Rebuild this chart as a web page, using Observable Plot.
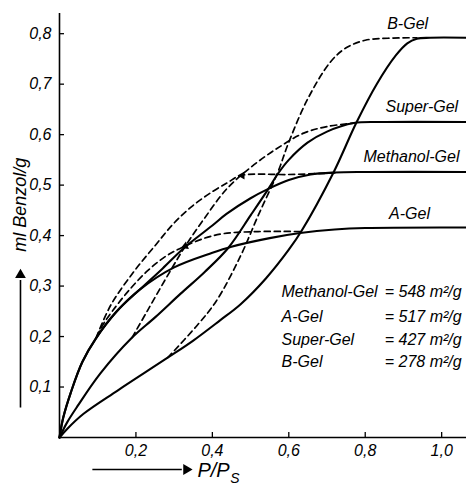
<!DOCTYPE html>
<html><head><meta charset="utf-8">
<script src="https://cdn.jsdelivr.net/npm/d3@7"></script>
<script src="https://cdn.jsdelivr.net/npm/@observablehq/plot@0.6"></script>
<style>html,body{margin:0;padding:0;background:#fff;}</style>
</head><body><div id="chart"></div>
<script>
// Adsorption (solid) and desorption (dashed) branches: [P/Ps, ml Benzol/g]
const aGelAds = [[0,0],[0.01,0.04],[0.03,0.09],[0.06,0.15],[0.095,0.196],[0.15,0.25],[0.21,0.293],[0.3,0.337],[0.4,0.366],[0.45,0.378],[0.55,0.395],[0.63,0.405],[0.72,0.412],[0.8,0.415],[1.065,0.416]];
const aGelDes = [[0.63,0.408],[0.52,0.408],[0.43,0.404],[0.38,0.395],[0.325,0.378],[0.28,0.36],[0.23,0.33],[0.18,0.29],[0.14,0.252],[0.115,0.225],[0.095,0.196]];
const methAds = [[0,0],[0.01,0.04],[0.03,0.09],[0.06,0.15],[0.095,0.196],[0.15,0.25],[0.21,0.293],[0.27,0.335],[0.325,0.375],[0.4,0.42],[0.437,0.443],[0.5,0.474],[0.545,0.492],[0.6,0.51],[0.657,0.521],[0.72,0.525],[0.8,0.526],[1.065,0.526]];
const methDes = [[0.72,0.524],[0.6,0.521],[0.474,0.519],[0.44,0.505],[0.4,0.487],[0.35,0.46],[0.3,0.425],[0.25,0.38],[0.194,0.328],[0.134,0.262],[0.095,0.196]];
const superAds = [[0,0],[0.02,0.03],[0.047,0.062],[0.107,0.127],[0.19,0.198],[0.25,0.238],[0.317,0.285],[0.38,0.328],[0.442,0.376],[0.5,0.44],[0.547,0.493],[0.571,0.522],[0.6,0.55],[0.649,0.584],[0.7,0.606],[0.77,0.623],[0.85,0.625],[1.065,0.625]];
const superDes = [[0.19,0.198],[0.23,0.251],[0.29,0.33],[0.33,0.38],[0.38,0.435],[0.437,0.492],[0.5,0.535],[0.568,0.572],[0.639,0.603],[0.7,0.616],[0.77,0.623]];
const bGelAds = [[0,0],[0.02,0.017],[0.063,0.047],[0.152,0.093],[0.283,0.158],[0.35,0.192],[0.42,0.232],[0.474,0.264],[0.54,0.315],[0.6,0.372],[0.634,0.41],[0.717,0.525],[0.777,0.624],[0.83,0.70],[0.88,0.757],[0.91,0.781],[0.935,0.79],[0.97,0.792],[1.065,0.792]];
const bGelDes = [[0.283,0.158],[0.36,0.222],[0.41,0.27],[0.474,0.36],[0.52,0.44],[0.571,0.525],[0.6,0.585],[0.649,0.67],[0.709,0.744],[0.75,0.772],[0.8,0.787],[0.86,0.791],[0.935,0.792]];

const gelNames = ["A-Gel","Methanol-Gel","Super-Gel","B-Gel"];
const adsBranches = [aGelAds, methAds, superAds, bGelAds];
const desBranches = [aGelDes, methDes, superDes, bGelDes];

const xTicks = [0.2,0.4,0.6,0.8,1.0];
const yTicks = [0.1,0.2,0.3,0.4,0.5,0.6,0.7,0.8];

// curve labels
const labelNames = ["B-Gel","Super-Gel","Methanol-Gel","A-Gel"];
const labelX = [0.911,0.948,0.921,0.916];
const labelY = [0.82,0.655,0.556,0.444];

// surface areas
const areaNames = ["Methanol-Gel","A-Gel","Super-Gel","B-Gel"];
const areaValues = [548,517,427,278];
const areaTextX = 0.581, areaEqX = 0.851;
const areaRowY = [0.289,0.238,0.193,0.149];

// axis titles and arrows (data coordinates outside the frame)
const yTitle = "ml Benzol/g";
const xTitleMain = "P/P", xTitleSub = "S";
const yArrow = {x: -0.1021, y1: 0.0594, y2: 0.312, tip: 0.322};
const xArrow = {y: -0.0634, x1: 0.086, x2: 0.32, tip: 0.332};
const curveArrows = [{x:0.478,y:0.519,rot:-90},{x:0.329,y:0.379,rot:-112}];

const fmt = d => d.toFixed(1).replace(".", ",");
const toRows = (branches) => branches.flatMap((b,i) => b.map(([P,v]) => ({gel: gelNames[i], P, v})));
const ads = toRows(adsBranches);
const des = toRows(desBranches);
const font = '"Liberation Sans",Arial,sans-serif';

const chart = Plot.plot({
  width: 466, height: 492,
  marginLeft: 59, marginRight: 0, marginTop: 13, marginBottom: 55,
  style: {fontFamily: font, fontStyle: "italic", fontSize: "16px", background: "#fff", color: "#000"},
  x: {domain: [0, 1.065]},
  y: {domain: [0, 0.84]},
  marks: [
    Plot.ruleX([0], {y1: 0, y2: 0.84, strokeWidth: 1.6}),
    Plot.ruleY([0], {x1: 0, x2: 1.065, strokeWidth: 1.6}),
    Plot.axisY({ticks: yTicks, tickSize: -5, tickPadding: 13, tickFormat: fmt, fontSize: 16, strokeWidth: 1.3}),
    Plot.axisX({ticks: xTicks, tickSize: -5, tickPadding: 12, tickFormat: fmt, fontSize: 16, strokeWidth: 1.3}),
    Plot.line(des, {x: "P", y: "v", z: "gel", curve: "catmull-rom", stroke: "#000", strokeWidth: 1.7, strokeDasharray: "6,4"}),
    Plot.line(ads, {x: "P", y: "v", z: "gel", curve: "catmull-rom", stroke: "#000", strokeWidth: 2.1}),
    Plot.dot(curveArrows, {x: "x", y: "y", rotate: "rot", symbol: "triangle", r: 3, fill: "#000", stroke: null}),
    Plot.text(labelNames, {x: (d,i) => labelX[i], y: (d,i) => labelY[i], text: d => d, fontSize: 16}),
    Plot.text(areaNames, {x: areaTextX, y: (d,i) => areaRowY[i], text: d => d, textAnchor: "start", fontSize: 16}),
    Plot.text(areaValues, {x: areaEqX, y: (d,i) => areaRowY[i], text: d => `= ${d} m²/g`, textAnchor: "start", fontSize: 16}),
    Plot.text([yTitle], {x: yArrow.x, y: 0.461, text: d => d, rotate: -90, fontSize: 18}),
    Plot.text([xTitleMain], {x: 0.361, y: -0.066, text: d => d, textAnchor: "start", fontSize: 20}),
    Plot.text([xTitleSub], {x: 0.447, y: -0.082, text: d => d, textAnchor: "start", fontSize: 14}),
    Plot.link([yArrow], {x1: "x", x2: "x", y1: "y1", y2: "y2", strokeWidth: 1.6}),
    Plot.dot([yArrow], {x: "x", y: "tip", symbol: "triangle", r: 4, fill: "#000", stroke: null}),
    Plot.link([xArrow], {x1: "x1", x2: "x2", y1: "y", y2: "y", strokeWidth: 1.6}),
    Plot.dot([xArrow], {x: "tip", y: "y", symbol: "triangle", rotate: 90, r: 4, fill: "#000", stroke: null})
  ]
});
document.getElementById("chart").appendChild(chart);
</script>
</body></html>
